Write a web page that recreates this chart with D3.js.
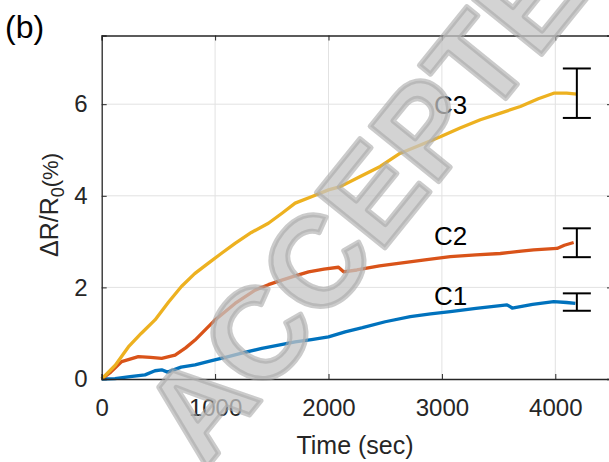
<!DOCTYPE html>
<html>
<head>
<meta charset="utf-8">
<script src="https://cdn.jsdelivr.net/npm/d3@7"></script>
<style>
  body { margin: 0; background: #fff; }
  text { font-family: "Liberation Sans", Arial, sans-serif; }
</style>
</head>
<body>
<div id="chart"></div>
<script>
// data: [time (sec), dR/R0 (%)]
var c1Data = [[0,0],[117,0.01],[250,0.05],[382,0.09],[470,0.18],[529,0.2],[580,0.15],[700,0.26],[823,0.31],[970,0.4],[1117,0.49],[1260,0.58],[1412,0.67],[1560,0.74],[1706,0.81],[1850,0.86],[2000,0.92],[2147,1.03],[2300,1.12],[2500,1.25],[2721,1.36],[2900,1.42],[3074,1.47],[3300,1.54],[3574,1.62],[3620,1.55],[3800,1.63],[3986,1.69],[4100,1.67],[4177,1.65]];
var c2Data = [[0,0],[80,0.15],[176,0.38],[323,0.49],[430,0.47],[529,0.45],[647,0.52],[740,0.68],[823,0.85],[1000,1.29],[1176,1.65],[1353,1.94],[1470,2.06],[1589,2.16],[1706,2.25],[1824,2.34],[1960,2.4],[2088,2.44],[2133,2.34],[2250,2.38],[2450,2.47],[2633,2.53],[2850,2.6],[3074,2.67],[3300,2.71],[3515,2.74],[3700,2.79],[3809,2.82],[4015,2.85],[4080,2.92],[4162,2.98]];
var c3Data = [[0,0],[120,0.3],[235,0.7],[350,1.0],[470,1.29],[590,1.68],[703,2.02],[820,2.3],[941,2.53],[1060,2.75],[1176,2.96],[1320,3.2],[1470,3.4],[1590,3.62],[1706,3.84],[1850,3.98],[2000,4.13],[2104,4.2],[2280,4.42],[2456,4.64],[2633,4.93],[2800,5.1],[2986,5.29],[3160,5.48],[3339,5.66],[3510,5.8],[3692,5.95],[3850,6.12],[3986,6.24],[4100,6.24],[4192,6.22]];

var seriesNames = ["C1", "C2", "C3"];
var seriesColors = ["#0072BD", "#D95319", "#EDB120"];

// error bars at the end of each curve: [time, low, high]
var errorBars = [[4190, 1.49, 1.87], [4190, 2.66, 3.29], [4190, 5.70, 6.78]];

// where the C1..C3 labels sit (data coords, left edge / middle)
var labelPos = [[2930, 1.83], [2930, 3.14], [2930, 6.0]];

var xTicks = [0, 1000, 2000, 3000, 4000];
var yTicks = [0, 2, 4, 6];

var svgWidth = 609;
var svgHeight = 462;

var margin = { top: 35.5, right: -3, bottom: 83, left: 101.7 };
var width = svgWidth - margin.left - margin.right;
var height = svgHeight - margin.top - margin.bottom;

var svg = d3.select("#chart")
  .append("svg")
  .attr("width", svgWidth)
  .attr("height", svgHeight);

var chartGroup = svg.append("g")
  .attr("transform", `translate(${margin.left}, ${margin.top})`);

var x = d3.scaleLinear().domain([0, 4500]).range([0, width]);
var y = d3.scaleLinear().domain([0, 7.5]).range([height, 0]);

// grid
chartGroup.append("g")
  .selectAll("line.vg")
  .data(xTicks.slice(1))
  .enter()
  .append("line")
  .attr("x1", d => x(d)).attr("x2", d => x(d))
  .attr("y1", 0).attr("y2", height)
  .attr("stroke", "#e2e2e2").attr("stroke-width", 1);

chartGroup.append("g")
  .selectAll("line.hg")
  .data(yTicks.slice(1))
  .enter()
  .append("line")
  .attr("x1", 0).attr("x2", width)
  .attr("y1", d => y(d)).attr("y2", d => y(d))
  .attr("stroke", "#e2e2e2").attr("stroke-width", 1);

// lines
var line = d3.line()
  .x(d => x(d[0]))
  .y(d => y(d[1]));

[c1Data, c2Data, c3Data].forEach(function(data, i) {
  chartGroup.append("path")
    .datum(data)
    .attr("fill", "none")
    .attr("stroke", seriesColors[i])
    .attr("stroke-width", 3.3)
    .attr("stroke-linejoin", "round")
    .attr("d", line);
});

// error bars
var capHalf = 14;
errorBars.forEach(function(e) {
  var g = chartGroup.append("g").attr("stroke", "#000").attr("stroke-width", 2);
  g.append("line").attr("x1", x(e[0])).attr("x2", x(e[0])).attr("y1", y(e[1])).attr("y2", y(e[2]));
  g.append("line").attr("x1", x(e[0]) - capHalf).attr("x2", x(e[0]) + capHalf).attr("y1", y(e[1])).attr("y2", y(e[1]));
  g.append("line").attr("x1", x(e[0]) - capHalf).attr("x2", x(e[0]) + capHalf).attr("y1", y(e[2])).attr("y2", y(e[2]));
});

// C labels
chartGroup.selectAll("text.clabel")
  .data(seriesNames)
  .enter()
  .append("text")
  .attr("x", (d, i) => x(labelPos[i][0]))
  .attr("y", (d, i) => y(labelPos[i][1]))
  .attr("dy", "0.36em")
  .attr("font-size", 26)
  .attr("fill", "#000")
  .text(d => d);

// axes (matlab style: ticks inward, box on)
var bottomAxis = d3.axisBottom(x).tickValues(xTicks).tickSize(-5).tickPadding(20).tickFormat(d3.format("d"));
var leftAxis = d3.axisLeft(y).tickValues(yTicks).tickSize(-5).tickPadding(14);

var xAxis = chartGroup.append("g")
  .attr("transform", `translate(0, ${height})`)
  .call(bottomAxis);
var yAxis = chartGroup.append("g").call(leftAxis);

chartGroup.append("g").call(d3.axisTop(x).tickValues(xTicks).tickSize(-5).tickFormat(""));
chartGroup.append("g").attr("transform", `translate(${width}, 0)`)
  .call(d3.axisRight(y).tickValues(yTicks).tickSize(-5).tickFormat(""));

chartGroup.selectAll(".domain").attr("stroke", "#262626").attr("stroke-width", 1.3);
chartGroup.selectAll(".tick line").attr("stroke", "#262626").attr("stroke-width", 1);
xAxis.selectAll("text").attr("font-size", 24).attr("fill", "#262626")
  .attr("font-family", "Liberation Sans, Arial, sans-serif");
yAxis.selectAll("text").attr("font-size", 24).attr("fill", "#262626")
  .attr("font-family", "Liberation Sans, Arial, sans-serif");

// axis labels
svg.append("text")
  .attr("x", 355)
  .attr("y", 454)
  .attr("text-anchor", "middle")
  .attr("font-size", 25)
  .attr("fill", "#262626")
  .text("Time (sec)");

var ylab = svg.append("text")
  .attr("transform", "translate(58, 205) rotate(-90)")
  .attr("text-anchor", "middle")
  .attr("font-size", 25)
  .attr("fill", "#262626");
ylab.append("tspan").text("\u0394R/R");
ylab.append("tspan").attr("font-size", 18).attr("dy", 6).text("0");
ylab.append("tspan").attr("dy", -6).attr("font-size", 22).text("(%)");

// panel letter
svg.append("text")
  .attr("x", 5)
  .attr("y", 38)
  .attr("font-size", 32)
  .attr("fill", "#000")
  .text("(b)");

// watermark
svg.append("text")
  .attr("transform", "translate(205, 470) rotate(-51)")
  .attr("font-size", 128)
  .attr("font-weight", "bold")
  .attr("fill", "#c4c4c4")
  .attr("fill-opacity", 0.75)
  .attr("stroke", "#a8a8a8")
  .attr("stroke-opacity", 0.6)
  .attr("stroke-width", 5)
  .attr("stroke-linejoin", "round")
  .text("ACCEPTED");
</script>
</body>
</html>
